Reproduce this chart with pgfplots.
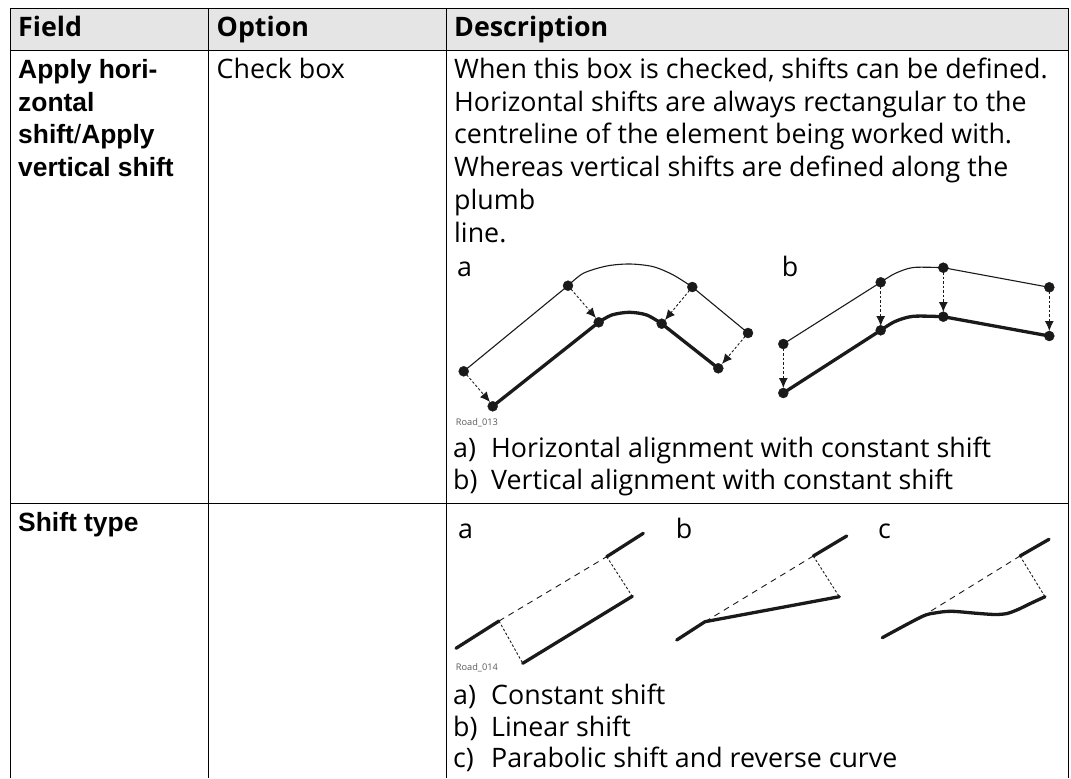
\documentclass[border=0pt]{standalone}
\usepackage{pgfplots}
\pgfplotsset{compat=1.18}
\usepackage{fontspec}
\usetikzlibrary{arrows.meta}
\setmainfont{Open Sans}
\newfontfamily\lib{Liberation Sans}
\definecolor{hdr}{HTML}{E5E5E5}
\definecolor{ink}{HTML}{1A1A1A}
\newcommand{\B}[3]{\node[anchor=base west,inner sep=0pt,text=black] at (axis cs:#1,#2) {\fontsize{26.8}{30}\selectfont #3};}
\newcommand{\HD}[3]{\node[anchor=base west,inner sep=0pt,text=black] at (axis cs:#1,#2) {\fontsize{26.8}{30}\selectfont\bfseries #3};}
\newcommand{\F}[3]{\node[anchor=base west,inner sep=0pt,text=black] at (axis cs:#1,#2) {\fontsize{26.4}{30}\selectfont\lib\bfseries #3};}
\newcommand{\SM}[3]{\node[anchor=base west,inner sep=0pt,text=black!65] at (axis cs:#1,#2) {\fontsize{9.2}{11}\selectfont #3};}
\pgfplotsset{
 thin line/.style={ink,line width=1.1pt,no marks},
 thick line/.style={ink,line width=3.3pt,no marks,line cap=round,line join=round},
 dot line/.style={ink,line width=0.9pt,no marks,dash pattern=on 2.5pt off 2pt},
 dash line/.style={ink,line width=0.9pt,no marks,dash pattern=on 6pt off 5pt},
 shift arrow/.style={dot line,-{Latex[length=10pt,width=9pt]}},
 dots/.style={only marks,mark=*,mark size=5pt,mark options={fill=ink,draw=ink}},
}
\begin{document}
\begin{tikzpicture}[x=1pt,y=1pt]
\begin{axis}[
 scale only axis,width=1071pt,height=778pt,
 xmin=0,xmax=1071,ymin=0,ymax=778,y dir=reverse,
 hide axis,clip=false]
\path (axis cs:0,0) rectangle (axis cs:1071,778);
% header fill
\addplot[draw=none,fill=hdr] coordinates {(10.5,8.5)(1068,8.5)(1068,51)(10.5,51)} --cycle;
% rules
\addplot[black,line width=1pt,no marks] coordinates {(10.5,778)(10.5,8.5)(1068,8.5)(1068,778)};
\addplot[black,line width=1pt,no marks] coordinates {(208.5,8.5)(208.5,778)};
\addplot[black,line width=1pt,no marks] coordinates {(446,8.5)(446,778)};
\addplot[black,line width=1pt,no marks] coordinates {(10.5,51)(1068,51)};
\addplot[black,line width=1pt,no marks] coordinates {(10.5,503)(1068,503)};
% text
\HD{18}{37}{Field}\HD{216.5}{37}{Option}\HD{454}{37}{Description}
\F{18}{79}{Apply hori-}\F{18}{112}{zontal}
\F{18}{143.5}{shift{\mdseries/}Apply}\F{18}{176}{vertical shift}
\F{18}{531}{Shift type}
\B{216.5}{79}{Check box}
\B{454}{79}{When this box is checked, shifts can be defined.}
\B{454}{111.7}{Horizontal shifts are always rectangular to the}
\B{454}{144}{centreline of the element being worked with.}
\B{454}{176.7}{Whereas vertical shifts are defined along the}
\B{454}{209}{plumb}
\B{454}{242}{line.}
\B{453}{457}{a)}\B{491}{457}{Horizontal alignment with constant shift}
\B{453}{489}{b)}\B{491}{489}{Vertical alignment with constant shift}
\B{453}{704}{a)}\B{491}{704}{Constant shift}
\B{453}{736}{b)}\B{491}{736}{Linear shift}
\B{453}{767.5}{c)}\B{491}{767.5}{Parabolic shift and reverse curve}
\B{457}{276.7}{a}\B{781.7}{276.7}{b}
\B{458}{538}{a}\B{675.7}{538}{b}\B{878}{538}{c}
\SM{455.7}{425}{Road\_013}\SM{455.7}{670}{Road\_014}
% diagram 1a
\addplot[thin line] coordinates {(463.7,371.3)(568,285.7)};
\addplot[thin line,smooth] coordinates {(568,285.7)(583.3,273.3)(606.7,266)(630,264)(653.3,266.7)(673.3,275)(692.3,287)};
\addplot[thin line] coordinates {(692.3,287)(748,333)};
\addplot[thick line] coordinates {(492.7,406.3)(598.7,322.3)};
\addplot[thick line,smooth] coordinates {(598.7,322.3)(611.7,315)(629.3,312.3)(646.7,315)(661.7,323.7)};
\addplot[thick line] coordinates {(661.7,323.7)(718.3,368.3)};
\addplot[shift arrow] coordinates {(463.7,371.3)(490,402)};
\addplot[shift arrow] coordinates {(568,285.7)(596,318)};
\addplot[shift arrow] coordinates {(692.3,287)(665,320)};
\addplot[shift arrow] coordinates {(748,333)(722,364)};
\addplot[dots] coordinates {(463.7,371.3)(568,285.7)(692.3,287)(748,333)(492.7,406.3)(598.7,322.3)(661.7,323.7)(718.3,368.3)};
% diagram 1b
\addplot[thin line] coordinates {(783.3,344)(880.7,282.3)};
\addplot[thin line,smooth] coordinates {(880.7,282.3)(895,273.5)(913.3,267.5)(943.3,267.7)};
\addplot[thin line] coordinates {(943.3,267.7)(1049.3,287.3)};
\addplot[thick line] coordinates {(783.3,393)(880.7,330.3)};
\addplot[thick line,smooth] coordinates {(880.7,330.3)(895,321.5)(913.3,316.3)(943.3,316.7)};
\addplot[thick line] coordinates {(943.3,316.7)(1049.3,336)};
\addplot[shift arrow] coordinates {(783.3,344)(783.3,388)};
\addplot[shift arrow] coordinates {(880.7,282.3)(880.7,326)};
\addplot[shift arrow] coordinates {(943.3,267.7)(943.3,312)};
\addplot[shift arrow] coordinates {(1049.3,287.3)(1049.3,331)};
\addplot[dots] coordinates {(783.3,344)(880.7,282.3)(943.3,267.7)(1049.3,287.3)(783.3,393)(880.7,330.3)(943.3,316.7)(1049.3,336)};
% shift a
\addplot[thick line] coordinates {(456,648.3)(499,621)};
\addplot[thick line] coordinates {(606.7,556.7)(643.3,533.3)};
\addplot[thick line] coordinates {(522.7,663.3)(632.3,596.3)};
\addplot[dash line] coordinates {(499,621)(606.7,556.7)};
\addplot[dot line] coordinates {(499,621)(522.7,663.3)};
\addplot[dot line] coordinates {(606.7,556.7)(632.3,596.3)};
% shift b
\addplot[thick line] coordinates {(676.7,640)(705,621.7)(839.3,596.7)};
\addplot[thick line] coordinates {(813.3,556)(846.7,536)};
\addplot[dash line] coordinates {(705,621.7)(813.3,556)};
\addplot[dot line] coordinates {(813.3,556)(839.3,596.7)};
% shift c
\addplot[thick line,smooth] coordinates {(882.3,637.7)(921.7,616.7)(936,612.8)(951.7,611.3)(976.7,613.3)(995,614.5)(1007,613.5)(1018,609.5)(1030,603.7)(1045,596.7)};
\addplot[thick line] coordinates {(1020,556)(1049,539.3)};
\addplot[dash line] coordinates {(921.7,616.7)(1020,556)};
\addplot[dot line] coordinates {(1020,556)(1045,596.7)};
\end{axis}
\end{tikzpicture}
\end{document}
